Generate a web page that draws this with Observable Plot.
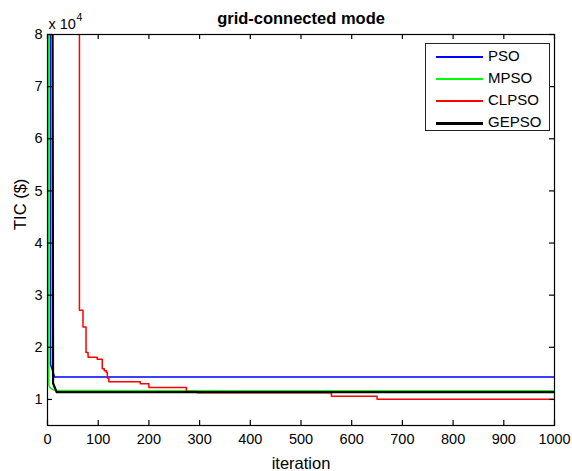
<!DOCTYPE html>
<html>
<head>
<meta charset="utf-8">
<script src="https://cdn.jsdelivr.net/npm/d3@7"></script>
<script src="https://cdn.jsdelivr.net/npm/@observablehq/plot@0.6"></script>
<style>
  html, body { margin: 0; padding: 0; background: #fff; }
  #wrap { position: relative; width: 572px; height: 471px; font-family: "Liberation Sans", Arial, sans-serif; }
  #legend { position: absolute; left: 425px; top: 43px; width: 125px; height: 88px; border: 1px solid #222; background: #fff; box-sizing: border-box; }
  .row { position: absolute; left: 0; height: 20px; }
  .sw { position: absolute; left: 10px; width: 47px; }
  .lab { position: absolute; left: 62px; font-size: 15px; line-height: 20px; top: 0; color: #000; white-space: nowrap; }
</style>
</head>
<body>
<div id="wrap"></div>
<script>
const seriesNames = ["PSO", "MPSO", "CLPSO", "GEPSO"];
const seriesColors = ["#0000ff", "#00ff00", "#ff0000", "#000000"];
const seriesWidths = [1.5, 1.5, 1.5, 2.2];

const psoIter = [0, 5, 6, 14, 1000];
const psoTic = [400000, 200000, 16700, 14300, 14300];

const mpsoIter = [0, 2, 2.6, 5, 9, 13, 20, 1000];
const mpsoTic = [300000, 150000, 12900, 12300, 12000, 11800, 11700, 11650];

const clpsoIter = [0, 63, 70, 76, 80, 98, 108, 112, 116, 118, 121, 183, 200, 274, 295, 560, 650, 1000];
const clpsoTic = [160000, 27100, 23900, 19000, 18100, 17700, 15900, 15500, 15200, 14100, 13400, 13000, 12300, 11500, 11300, 10600, 10050, 10050];

const gepsoIter = [0, 9, 11, 18, 1000];
const gepsoTic = [300000, 150000, 13100, 11400, 11400];

const xTicks = [0, 100, 200, 300, 400, 500, 600, 700, 800, 900, 1000];
const yTicks = [10000, 20000, 30000, 40000, 50000, 60000, 70000, 80000];
const xDomain = [0, 1000];
const yDomain = [5000, 80000];

const titleText = "grid-connected mode";
const xLabel = "iteration";
const yLabel = "TIC ($)";
const expText = "x 10";
const expPow = "4";

const toRows = (it, v) => it.map((x, i) => ({x, y: v[i]}));
const pso = toRows(psoIter, psoTic);
const mpso = toRows(mpsoIter, mpsoTic);
const clpso = toRows(clpsoIter, clpsoTic);
const gepso = toRows(gepsoIter, gepsoTic);

const chart = Plot.plot({
  width: 572,
  height: 471,
  marginLeft: 47,
  marginRight: 18,
  marginTop: 34,
  marginBottom: 46,
  style: {fontFamily: "Liberation Sans, Arial, sans-serif", fontSize: "14.5px", background: "#fff", color: "#000"},
  x: {domain: xDomain},
  y: {domain: yDomain},
  marks: [
    Plot.line(pso, {x: "x", y: "y", stroke: seriesColors[0], strokeWidth: seriesWidths[0], clip: true}),
    Plot.line(mpso, {x: "x", y: "y", stroke: seriesColors[1], strokeWidth: seriesWidths[1], curve: "monotone-x", clip: true}),
    Plot.line(clpso, {x: "x", y: "y", stroke: seriesColors[2], strokeWidth: seriesWidths[2], curve: "step-after", clip: true}),
    Plot.line(gepso, {x: "x", y: "y", stroke: seriesColors[3], strokeWidth: seriesWidths[3], clip: true}),
    Plot.frame({stroke: "#000", strokeWidth: 1.2}),
    Plot.ruleX(xTicks, {x: d => d, y1: yDomain[0], y2: yDomain[0], insetTop: -5, stroke: "#000", strokeWidth: 1.2}),
    Plot.ruleX(xTicks, {x: d => d, y1: yDomain[1], y2: yDomain[1], insetBottom: -5, stroke: "#000", strokeWidth: 1.2}),
    Plot.ruleY(yTicks, {y: d => d, x1: xDomain[0], x2: xDomain[0], insetRight: -5, stroke: "#000", strokeWidth: 1.2}),
    Plot.ruleY(yTicks, {y: d => d, x1: xDomain[1], x2: xDomain[1], insetLeft: -5, stroke: "#000", strokeWidth: 1.2}),
    Plot.axisX(xTicks, {anchor: "bottom", tickSize: 0, tickPadding: 8, tickFormat: d => String(d), label: null, fill: "#000"}),
    Plot.axisY(yTicks, {anchor: "left", tickSize: 0, tickPadding: 5, tickFormat: d => String(d / 10000), label: null, fill: "#000"}),
    Plot.text([titleText], {frameAnchor: "top", dy: -11, lineAnchor: "bottom", fontWeight: "bold", fontSize: 16.5, fill: "#000"}),
    Plot.text([xLabel], {frameAnchor: "bottom", dy: 43, lineAnchor: "bottom", fontSize: 16.5, fill: "#000"}),
    Plot.text([yLabel], {frameAnchor: "left", dx: -22, rotate: -90, lineAnchor: "bottom", fontSize: 16.5, fill: "#000"}),
    Plot.text([expText], {frameAnchor: "top-left", dx: 1, dy: -6, textAnchor: "start", lineAnchor: "bottom", fontSize: 14.5, fill: "#000"}),
    Plot.text([expPow], {frameAnchor: "top-left", dx: 29, dy: -14, textAnchor: "start", lineAnchor: "bottom", fontSize: 10.5, fill: "#000"})
  ]
});

const wrap = document.getElementById("wrap");
wrap.appendChild(chart);

const legend = document.createElement("div");
legend.id = "legend";
seriesNames.forEach((name, i) => {
  const row = document.createElement("div");
  row.className = "row";
  row.style.top = (2 + i * 22) + "px";
  row.style.width = "120px";
  const sw = document.createElement("div");
  sw.className = "sw";
  sw.style.top = "10px";
  sw.style.height = "0px";
  sw.style.borderTop = (i === 3 ? 3 : 2) + "px solid " + seriesColors[i];
  const lab = document.createElement("div");
  lab.className = "lab";
  lab.textContent = name;
  row.appendChild(sw);
  row.appendChild(lab);
  legend.appendChild(row);
});
wrap.appendChild(legend);
</script>
</body>
</html>
